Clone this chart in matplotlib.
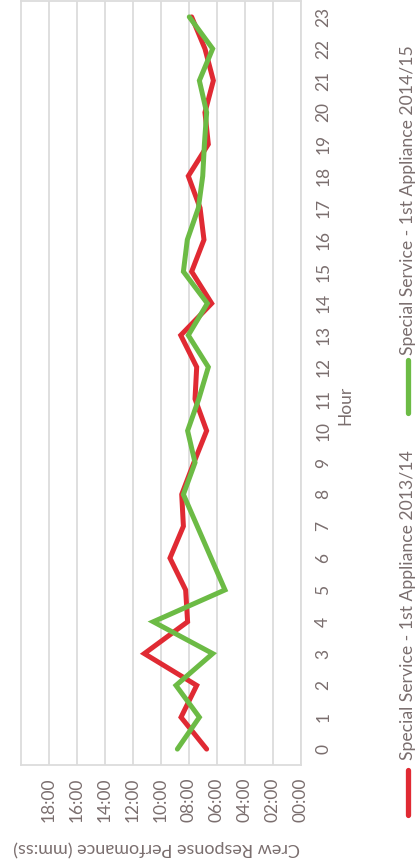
import matplotlib
matplotlib.use("Agg")
import matplotlib.pyplot as plt
from matplotlib.lines import Line2D

# hours of day (category axis, drawn vertically)
hours = list(range(24))

# crew response performance in minutes
resp_2013_14 = [6.74, 8.57, 7.45, 11.19, 8.10, 8.24, 9.36, 8.40, 8.52, 7.65,
                6.74, 7.57, 7.45, 8.59, 6.38, 7.81, 6.93, 7.21, 8.05, 6.62,
                6.86, 6.26, 6.86, 7.81]
resp_2014_15 = [8.83, 7.26, 8.93, 6.31, 10.55, 5.43, 6.42, 7.41, 8.40, 7.57,
                8.10, 7.30, 6.62, 8.05, 6.69, 8.40, 8.12, 7.33, 7.02, 6.90,
                6.74, 7.26, 6.31, 7.98]

value_ticks = [0, 2, 4, 6, 8, 10, 12, 14, 16, 18]
value_labels = ["%02d:00" % v for v in value_ticks]

series_names = ["Special Service - 1st Appliance 2013/14",
                "Special Service - 1st Appliance 2014/15"]
colors = ["#E02A33", "#6CBB45"]

TXT = "#7a6e6e"
GRID = "#dcdcdc"

plt.rcParams.update({
    "font.family": ["Lato", "DejaVu Sans"],
    "font.size": 12.5,
    "text.color": TXT,
})

W, H = 418, 865
fig = plt.figure(figsize=(W / 100, H / 100), dpi=100)
ax = fig.add_axes([21 / W, 1 - 765 / H, (301 - 21) / W, (765 - 1) / H])

# chart is drawn rotated: value runs right-to-left, hour runs bottom-to-top
for vals, c in zip([resp_2013_14, resp_2014_15], colors):
    ax.plot(vals, hours, color=c, lw=3.6, solid_joinstyle="miter",
            solid_capstyle="round")

ax.set_xlim(20, 0)
ax.set_ylim(-0.5, 23.5)

ax.set_xticks(value_ticks)
ax.set_xticklabels(value_labels, rotation=90, va="top", ha="center")
ax.set_yticks(hours)
ax.set_yticklabels([str(h) for h in hours], rotation=90, va="center", ha="center")
ax.yaxis.tick_right()
ax.tick_params(axis="both", length=0, colors=TXT, labelsize=12.5)
ax.tick_params(axis="x", pad=9)
ax.tick_params(axis="y", pad=16)

ax.xaxis.grid(True, color=GRID, lw=1.3)
ax.set_axisbelow(True)
for s in ax.spines.values():
    s.set_color(GRID)
    s.set_linewidth(1.3)

fig.text(345 / W, 1 - 405 / H, "Hour", rotation=90, ha="center", va="center",
         fontsize=12.5, color=TXT)
fig.text(157 / W, 1 - 848 / H, "Crew Response Perfomance (mm:ss)", rotation=180,
         ha="center", va="center", fontsize=13, color=TXT)

# legend, drawn rotated to match the chart
lx = 408 / W
leg = [(770, 815, 760), (360, 413, 355)]
for (y0, y1, ty), name, c in zip(leg, series_names, colors):
    fig.add_artist(Line2D([lx, lx], [1 - y1 / H, 1 - y0 / H], color=c, lw=3.8,
                          solid_capstyle="round", transform=fig.transFigure))
    fig.text(lx, 1 - ty / H, name, rotation=90, ha="center", va="bottom",
             fontsize=12.7, color=TXT)

fig.savefig("out.png", dpi=100)
